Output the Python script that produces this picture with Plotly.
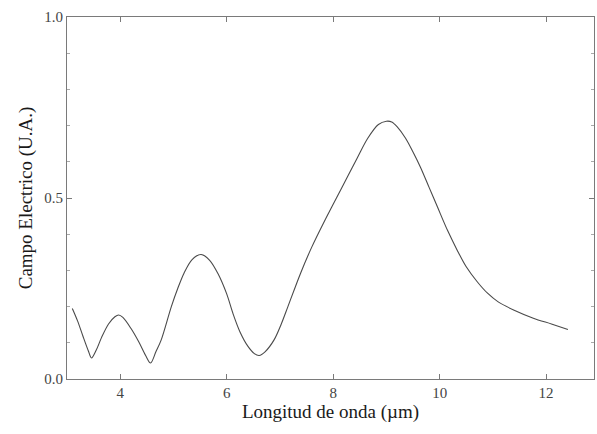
import plotly.graph_objects as go

# Wavelength (µm) and electric field (a.u.)
wavelength = [3.1, 3.2, 3.3, 3.4, 3.46, 3.55, 3.65, 3.78, 3.9, 3.97, 4.05, 4.2, 4.35, 4.48, 4.57,
              4.67, 4.77, 4.96, 5.08, 5.2, 5.35, 5.52, 5.68, 5.84, 6.0, 6.12, 6.25, 6.4, 6.52,
              6.61, 6.72, 6.89, 7.02, 7.15, 7.39, 7.6, 7.85, 8.15, 8.45, 8.65, 8.85, 9.0, 9.1,
              9.2, 9.36, 9.5, 9.64, 9.8, 9.96, 10.15, 10.33, 10.5, 10.71, 10.9, 11.1, 11.4,
              11.76, 12.1, 12.41]
field = [0.195, 0.16, 0.118, 0.078, 0.058, 0.08, 0.115, 0.152, 0.172, 0.177, 0.17, 0.14, 0.102,
         0.064, 0.044, 0.075, 0.108, 0.2, 0.25, 0.293, 0.33, 0.344, 0.328, 0.29, 0.235, 0.18,
         0.13, 0.09, 0.07, 0.065, 0.075, 0.108, 0.15, 0.2, 0.293, 0.365, 0.44, 0.525, 0.61,
         0.665, 0.703, 0.712, 0.71, 0.697, 0.665, 0.627, 0.585, 0.53, 0.475, 0.41, 0.356, 0.31,
         0.268, 0.237, 0.213, 0.19, 0.168, 0.152, 0.137]

x_ticks = [4, 6, 8, 10, 12]
y_ticks = [0.0, 0.5, 1.0]
y_tick_labels = ["0.0", "0.5", "1.0"]

serif = "Liberation Serif, Times New Roman, serif"

fig = go.Figure()
fig.add_trace(go.Scatter(
    x=wavelength, y=field, mode="lines",
    line=dict(color="#4a4a4a", width=1.1, shape="spline", smoothing=0.9),
    showlegend=False, hoverinfo="skip"))

axis_common = dict(
    showline=True, linecolor="#7a7a7a", linewidth=1.2, mirror="ticks",
    ticks="inside", ticklen=5, tickcolor="#7a7a7a", tickwidth=1,
    showgrid=False, zeroline=False,
    tickfont=dict(family=serif, size=15, color="#444444"),
)

fig.update_xaxes(
    range=[3.0, 12.9], tickvals=x_ticks,
    title=dict(text="Longitud de onda (µm)", font=dict(family=serif, size=19, color="#1a1a1a"), standoff=4),
    **axis_common)
fig.update_yaxes(
    range=[0.0, 1.0], tickvals=y_ticks, ticktext=y_tick_labels,
    minor=dict(dtick=0.1, ticks="inside", ticklen=3, tickcolor="#aaaaaa"),
    title=dict(text="Campo Electrico (U.A.)", font=dict(family=serif, size=19, color="#1a1a1a"), standoff=6),
    **axis_common)

fig.update_layout(
    width=597, height=434,
    margin=dict(l=67, r=3, t=17, b=55),
    paper_bgcolor="white", plot_bgcolor="white",
)

fig.write_html("out.html", config={"displayModeBar": False},
               post_script="document.body.style.margin='0';")
